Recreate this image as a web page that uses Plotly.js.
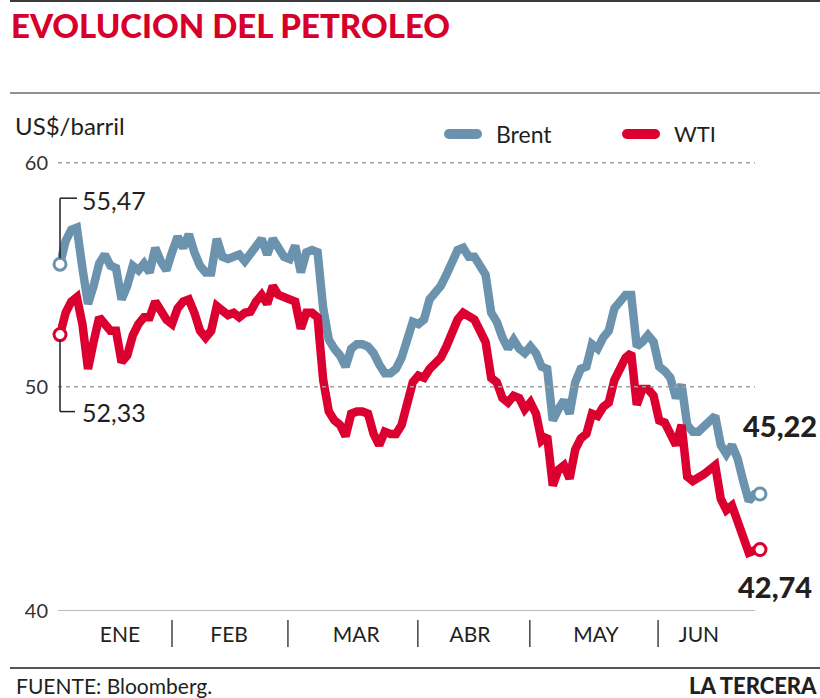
<!DOCTYPE html>
<html>
<head>
<meta charset="utf-8">
<script src="https://cdn.plot.ly/plotly-3.0.1.min.js"></script>
<style>
  html, body { margin: 0; padding: 0; background: #fff; }
  #grafico { width: 820px; height: 698px; }
</style>
</head>
<body>
<div id="grafico"></div>
<script>
// cierre diario, US$/barril, primera rueda de enero a 22 de junio
const brent = [
  55.47, 56.5, 57.0, 57.1, 55.3, 53.7, 54.5, 55.5, 55.9, 55.4,
  55.3, 53.9, 54.5, 55.4, 55.2, 55.5, 55.1, 56.2, 55.6, 55.2,
  56.0, 56.7, 56.2, 56.8, 56.0, 55.4, 55.1, 55.1, 56.6, 55.8,
  55.7, 55.8, 55.9, 55.6, 55.9, 56.3, 56.6, 55.9, 56.6, 56.2,
  55.8, 55.7, 56.3, 55.1, 56.0, 56.1, 56.0, 53.5, 52.1, 51.7,
  51.4, 50.9, 51.7, 51.9, 51.9, 51.8, 51.5, 51.0, 50.6, 50.6,
  50.8, 51.3, 52.2, 52.9, 52.8, 53.0, 53.9, 54.2, 54.5, 55.0,
  55.6, 56.1, 56.2, 55.8, 55.8, 55.4, 55.0, 53.3, 52.9, 52.2,
  51.7, 52.1, 51.7, 51.5, 51.8, 51.5, 50.9, 50.8, 48.5, 49.0,
  49.4, 48.8, 50.2, 50.8, 50.9, 51.9, 51.7, 52.2, 52.5, 53.5,
  53.8, 54.1, 54.1, 51.8, 52.0, 52.3, 52.0, 50.9, 50.7, 50.4,
  49.5, 50.1, 48.3, 48.0, 48.0, 48.2, 48.5, 48.7, 47.4, 47.0,
  47.4, 46.8, 45.8, 44.9, 45.2, 45.22
];
const wti = [
  52.33, 53.3, 53.8, 54.0, 52.8, 50.8, 52.0, 53.1, 52.8, 52.5,
  52.5, 51.1, 51.4, 52.3, 52.8, 53.1, 53.1, 53.8, 53.4, 53.0,
  52.8, 53.5, 53.8, 53.9, 53.3, 52.5, 52.2, 52.5, 53.6, 53.4,
  53.2, 53.3, 53.1, 53.3, 53.35, 53.8, 54.1, 53.7, 54.5, 54.1,
  54.0, 54.0, 53.8, 52.6, 53.3, 53.3, 53.1, 50.3, 48.9, 48.5,
  48.3, 47.8, 48.8, 48.9, 48.9, 48.8, 47.9, 47.4, 48.0, 47.9,
  47.9, 48.3, 49.2, 50.2, 50.5, 50.4, 50.8, 51.1, 51.3, 51.8,
  52.4, 53.0, 53.3, 53.1, 53.0, 52.5, 52.0, 50.4, 50.2, 49.5,
  49.3, 49.6, 49.5, 49.0, 49.3, 48.8, 47.6, 47.8, 45.6, 46.3,
  46.5, 45.9, 47.2, 47.7, 47.9, 48.8, 48.7, 49.1, 49.3, 50.3,
  50.9, 51.3, 51.5, 49.2, 49.9, 49.9, 49.6, 48.5, 48.4, 47.8,
  47.4, 48.3, 46.0, 45.8, 45.9, 46.1, 46.3, 46.5, 45.0, 44.5,
  44.7, 43.9, 43.3, 42.6, 42.7, 42.74
];
const meses = ['ENE', 'FEB', 'MAR', 'ABR', 'MAY', 'JUN'];
const mesCentro = [10.7, 30.2, 52.9, 73.2, 95.7, 114.1];
const mesLimite = [20, 40.7, 63.9, 83.9, 106.8];
const yTicks = [40, 50, 60];

const AZUL = '#6b93ae';
const ROJO = '#dc0030';
const NEGRO = '#231f20';

const sesiones = brent.map((_, i) => i);
const ult = brent.length - 1;

// pixel de la figura -> coordenada paper
const px = v => (v - 58) / 704;
const py = v => (611 - v) / 482;
const fmt = v => v.toFixed(2).replace('.', ',');

function linea(x, y, color, nombre) {
  return {
    x: x, y: y, name: nombre, mode: 'lines', type: 'scatter',
    line: { color: color, width: 8.5 },
    showlegend: false, hoverinfo: 'skip'
  };
}
function extremos(y, color) {
  return {
    x: [0, ult], y: [y[0], y[ult]], mode: 'markers', type: 'scatter',
    marker: { size: 12, color: '#fff', line: { color: color, width: 3 } },
    cliponaxis: false, showlegend: false, hoverinfo: 'skip'
  };
}

let data = [
  linea(sesiones, brent, AZUL, 'Brent'),
  linea(sesiones, wti, ROJO, 'WTI'),
  extremos(brent, AZUL),
  extremos(wti, ROJO)
];

let shapes = [];
// reglas superior, bajo el título y al pie
[[1, '#3a3a3a', 2], [93, '#6e6e6e', 1.5], [668, '#555', 2]].forEach(r => {
  shapes.push({ type: 'line', xref: 'paper', yref: 'paper',
    x0: px(10), x1: px(820), y0: py(r[0]), y1: py(r[0]),
    line: { color: r[1], width: r[2] } });
});
// grilla
yTicks.forEach((v, i) => {
  shapes.push({ type: 'line', xref: 'paper', yref: 'y', x0: 0, x1: px(755), y0: v, y1: v,
    line: { color: i === 0 ? '#a5a5a5' : '#a0a0a0', width: 1.5,
            dash: i === 0 ? 'solid' : '4px,4px' } });
});
// separadores de meses
mesLimite.forEach(m => {
  shapes.push({ type: 'line', xref: 'x', yref: 'paper', x0: m, x1: m,
    y0: py(620), y1: py(647), line: { color: '#444', width: 1.5 } });
});
// muestras de la leyenda
function muestra(x0, x1, yc, color) {
  const rx = 5 / 704, ry = 5 / 482;
  shapes.push({ type: 'line', xref: 'paper', yref: 'paper', x0: px(x0 + 5), x1: px(x1 - 5),
    y0: py(yc), y1: py(yc), line: { color: color, width: 10 } });
  [x0 + 5, x1 - 5].forEach(c => {
    shapes.push({ type: 'circle', xref: 'paper', yref: 'paper',
      x0: px(c) - rx, x1: px(c) + rx, y0: py(yc) - ry, y1: py(yc) + ry,
      fillcolor: color, line: { width: 0 } });
  });
}
muestra(444, 482, 134, AZUL);
muestra(622, 660, 134, ROJO);

// conectores de los valores extremos (en pixeles desde el punto)
function conector(xa, ya, segs) {
  segs.forEach(s => {
    shapes.push({ type: 'line', xref: 'x', yref: 'y', xsizemode: 'pixel', ysizemode: 'pixel',
      xanchor: xa, yanchor: ya, x0: s[0], y0: s[1], x1: s[2], y1: s[3],
      line: { color: NEGRO, width: 1.5 } });
  });
}
conector(0, brent[0], [[0, 6, 0, 66], [0, 66, 17, 66]]);
conector(0, wti[0], [[0, -6, 0, -77], [0, -77, 15, -77]]);
conector(ult, brent[ult], [[6, 0, 17, 0], [17, 0, 17, 50]]);
conector(ult, wti[ult], [[6, 0, 17, 0], [17, 0, 17, -23]]);

function texto(t, x, y, xa, size, extra) {
  return Object.assign({ text: t, xref: 'paper', yref: 'paper', x: px(x), y: py(y),
    xanchor: xa, yanchor: 'middle', showarrow: false,
    font: { family: 'Lato', size: size, color: NEGRO } }, extra || {});
}

let annotations = [
  texto('EVOLUCION DEL PETROLEO', 9, 25, 'left', 33,
    { font: { family: 'Lato', size: 33, weight: 900, color: '#d6002b' } }),
  texto('US$/barril', 13, 125, 'left', 24),
  texto('Brent', 494, 134, 'left', 23),
  texto('WTI', 672, 134, 'left', 22),
  texto('FUENTE: Bloomberg.', 14, 685, 'left', 21),
  texto('LA TERCERA', 819, 685, 'right', 22,
    { font: { family: 'Lato', size: 22, weight: 900, color: NEGRO } }),
  { text: fmt(brent[0]), xref: 'x', yref: 'y', x: 0, y: brent[0], xanchor: 'left', yanchor: 'middle',
    xshift: 20, yshift: 64, showarrow: false, font: { family: 'Lato', size: 25, color: NEGRO } },
  { text: fmt(wti[0]), xref: 'x', yref: 'y', x: 0, y: wti[0], xanchor: 'left', yanchor: 'middle',
    xshift: 20, yshift: -77, showarrow: false, font: { family: 'Lato', size: 25, color: NEGRO } },
  { text: fmt(brent[ult]), xref: 'x', yref: 'y', x: ult, y: brent[ult], xanchor: 'center', yanchor: 'middle',
    xshift: 20, yshift: 68, showarrow: false, font: { family: 'Lato', size: 29, weight: 900, color: NEGRO } },
  { text: fmt(wti[ult]), xref: 'x', yref: 'y', x: ult, y: wti[ult], xanchor: 'center', yanchor: 'middle',
    xshift: 15, yshift: -37, showarrow: false, font: { family: 'Lato', size: 29, weight: 900, color: NEGRO } }
];

var layout = {
  width: 820, height: 698,
  margin: { l: 58, r: 58, t: 129, b: 87 },
  paper_bgcolor: '#fff', plot_bgcolor: '#fff',
  font: { family: 'Lato', color: NEGRO },
  showlegend: false,
  hovermode: false,
  xaxis: {
    range: [-0.36, 125.36], tickvals: mesCentro, ticktext: meses,
    showgrid: false, zeroline: false, showline: false, ticks: '',
    tickfont: { family: 'Lato', size: 21, color: NEGRO }, ticklabelstandoff: 9
  },
  yaxis: {
    range: [40, 61.5], tickvals: yTicks, ticktext: yTicks.map(String),
    showgrid: false, zeroline: false, showline: false, ticks: '',
    tickfont: { family: 'Lato', size: 20, color: '#333' }, ticklabelstandoff: 9
  },
  shapes: shapes,
  annotations: annotations
};

Plotly.newPlot('grafico', data, layout, { displayModeBar: false, staticPlot: true });
</script>
</body>
</html>
